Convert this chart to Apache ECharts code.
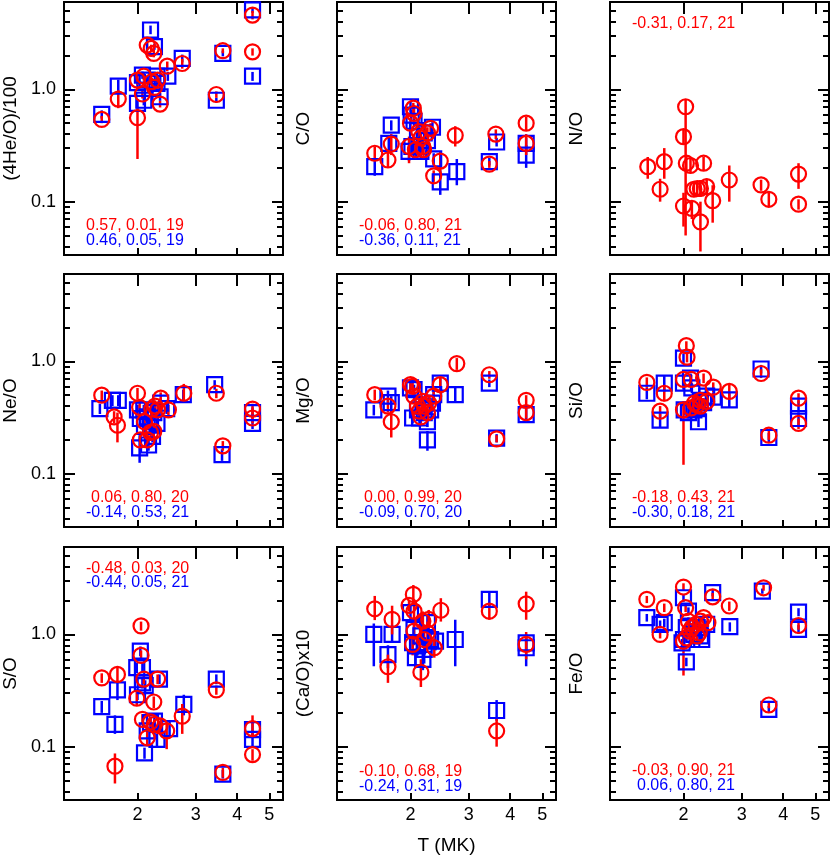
<!DOCTYPE html>
<html>
<head>
<meta charset="utf-8">
<title>Abundance ratios vs T</title>
<script src="https://cdn.jsdelivr.net/npm/echarts@6.0.0/dist/echarts.min.js"></script>
<style>
  html, body { margin: 0; padding: 0; background: #fff; }
  #chart { width: 831px; height: 857px; }
</style>
</head>
<body>
<div id="chart"></div>
<script>
const RED = '#ff0000';
const BLUE = '#0000ff';
const FONT = 'Liberation Sans, Arial, Helvetica, sans-serif';

// axes (T in MK on x, abundance ratio on y, both log)
const tRange = [1.2, 5.5];
const ratioRange = [0.0335, 6.0];
const tTicks = [2, 3, 4, 5];
const ratioMajorTicks = [0.1, 1];
const ratioMinorTicks = [0.04, 0.05, 0.06, 0.07, 0.08, 0.09,
  0.2, 0.3, 0.4, 0.5, 0.6, 0.7, 0.8, 0.9, 2, 3, 4, 5];

const panelLabels = ['(4He/O)/100', 'C/O', 'N/O', 'Ne/O', 'Mg/O', 'Si/O', 'S/O', '(Ca/O)x10', 'Fe/O'];
const redStats = ['0.57, 0.01, 19', '-0.06, 0.80, 21', '-0.31, 0.17, 21',
  '0.06, 0.80, 20', '0.00, 0.99, 20', '-0.18, 0.43, 21',
  '-0.48, 0.03, 20', '-0.10, 0.68, 19', '-0.03, 0.90, 21'];
const blueStats = ['0.46, 0.05, 19', '-0.36, 0.11, 21', null,
  '-0.14, 0.53, 21', '-0.09, 0.70, 20', '-0.30, 0.18, 21',
  '-0.44, 0.05, 21', '-0.24, 0.31, 19', '0.06, 0.80, 21'];

// [T, ratio, bar low, bar high]
const heRed = [[1.56,0.54,0.50,0.58],[1.75,0.82,0.68,0.98],[2.00,0.56,0.24,0.70],[2.00,1.21,1.10,1.32],
  [2.07,0.91,0.83,1.00],[2.09,1.31,1.20,1.42],[2.14,2.48,2.32,2.64],[2.20,2.32,2.15,2.50],
  [2.24,2.09,1.93,2.25],[2.25,1.04,0.95,1.13],[2.30,1.21,1.10,1.32],[2.34,0.74,0.69,0.79],
  [2.46,1.61,1.45,1.77],[2.73,1.70,1.53,1.87],[3.46,0.90,0.84,0.96],[3.62,2.21,2.10,2.32],
  [4.45,4.59,4.20,5.00],[4.45,2.16,2.00,2.32],[2.21,1.17,1.07,1.27]];
const heBlue = [[1.56,0.60,0.55,0.65],[1.75,1.07,0.92,1.22],[2.00,1.15,1.05,1.25],[2.00,0.75,0.68,0.82],
  [2.07,1.34,1.24,1.44],[2.19,3.38,3.10,3.70],[2.25,2.40,2.25,2.55],[2.29,1.31,1.20,1.42],
  [2.34,0.86,0.79,0.93],[2.47,1.31,1.19,1.43],[2.73,1.89,1.74,2.04],[3.46,0.80,0.76,0.84],
  [3.62,2.09,1.97,2.21],[4.45,5.10,4.80,5.40],[4.45,1.31,1.19,1.43],[2.09,0.80,0.72,0.88],
  [2.14,1.21,1.11,1.31],[2.29,1.13,1.03,1.23],[2.22,1.02,0.94,1.10]];

const cRed = [[1.56,0.27,0.23,0.31],[1.71,0.235,0.20,0.28],[1.75,0.326,0.26,0.40],[1.98,0.31,0.22,0.38],
  [2.00,0.50,0.44,0.56],[2.04,0.68,0.60,0.76],[2.05,0.61,0.54,0.68],[2.07,0.29,0.25,0.33],
  [2.12,0.42,0.37,0.47],[2.15,0.37,0.32,0.42],[2.19,0.29,0.25,0.33],[2.25,0.41,0.36,0.46],
  [2.30,0.45,0.40,0.50],[2.35,0.17,0.15,0.19],[2.46,0.23,0.18,0.28],[2.73,0.39,0.31,0.47],
  [3.46,0.216,0.20,0.23],[3.62,0.40,0.36,0.44],[4.47,0.50,0.43,0.57],[4.47,0.33,0.26,0.40],
  [2.18,0.31,0.27,0.35]];
const cBlue = [[1.56,0.205,0.17,0.245],[1.72,0.33,0.28,0.38],[1.75,0.48,0.43,0.53],[2.00,0.70,0.62,0.78],
  [2.01,0.59,0.52,0.66],[1.98,0.28,0.23,0.33],[2.10,0.43,0.38,0.48],[2.15,0.28,0.24,0.32],
  [2.25,0.35,0.31,0.39],[2.33,0.46,0.41,0.51],[2.35,0.24,0.21,0.27],[2.46,0.15,0.115,0.19],
  [2.76,0.185,0.14,0.24],[3.46,0.227,0.21,0.245],[3.64,0.34,0.31,0.37],[4.47,0.33,0.29,0.37],
  [4.47,0.26,0.20,0.32],[2.05,0.52,0.46,0.58],[2.20,0.41,0.36,0.46],[2.12,0.31,0.27,0.35],
  [2.02,0.31,0.27,0.35]];

const nRed = [[1.56,0.205,0.16,0.25],[1.70,0.129,0.10,0.16],[1.75,0.227,0.16,0.30],[2.00,0.379,0.32,0.44],
  [2.03,0.70,0.05,0.82],[2.00,0.0915,0.06,0.12],[2.04,0.22,0.18,0.26],[2.10,0.21,0.18,0.24],
  [2.12,0.087,0.07,0.10],[2.15,0.129,0.11,0.15],[2.20,0.131,0.11,0.15],[2.25,0.131,0.11,0.155],
  [2.25,0.066,0.036,0.10],[2.30,0.22,0.19,0.25],[2.35,0.136,0.115,0.16],[2.45,0.102,0.065,0.14],
  [2.75,0.156,0.10,0.21],[3.43,0.141,0.125,0.157],[3.62,0.105,0.09,0.12],[4.45,0.176,0.13,0.22],
  [4.45,0.095,0.085,0.105]];

const neRed = [[1.56,0.50,0.45,0.55],[1.70,0.32,0.28,0.36],[1.74,0.27,0.19,0.35],[2.00,0.52,0.46,0.58],
  [2.03,0.39,0.34,0.44],[2.04,0.20,0.17,0.23],[2.10,0.29,0.25,0.33],[2.14,0.20,0.17,0.23],
  [2.19,0.233,0.20,0.26],[2.24,0.238,0.20,0.27],[2.21,0.376,0.33,0.42],[2.26,0.40,0.35,0.45],
  [2.30,0.37,0.33,0.41],[2.35,0.47,0.41,0.53],[2.48,0.37,0.33,0.41],[2.76,0.52,0.43,0.63],
  [3.46,0.52,0.47,0.57],[3.62,0.177,0.16,0.195],[4.45,0.376,0.33,0.42],[4.45,0.313,0.28,0.35]];
const neBlue = [[1.54,0.38,0.34,0.42],[1.68,0.45,0.40,0.50],[1.75,0.45,0.40,0.50],[2.00,0.37,0.33,0.41],
  [2.03,0.17,0.125,0.22],[2.09,0.37,0.33,0.41],[2.10,0.264,0.23,0.30],[2.16,0.18,0.16,0.20],
  [2.19,0.27,0.24,0.30],[2.24,0.35,0.31,0.39],[2.29,0.28,0.25,0.31],[2.35,0.425,0.38,0.47],
  [2.45,0.38,0.34,0.42],[2.75,0.505,0.45,0.56],[3.42,0.62,0.56,0.68],[3.60,0.148,0.13,0.165],
  [4.45,0.35,0.31,0.39],[4.45,0.28,0.25,0.31],[2.04,0.31,0.27,0.35],[2.14,0.32,0.28,0.36],
  [2.22,0.215,0.19,0.24]];

const mgRed = [[1.56,0.505,0.45,0.56],[1.71,0.40,0.35,0.45],[1.75,0.29,0.21,0.37],[2.00,0.62,0.56,0.68],
  [2.03,0.60,0.54,0.66],[2.05,0.49,0.44,0.54],[2.10,0.40,0.36,0.44],[2.15,0.32,0.28,0.36],
  [2.18,0.44,0.39,0.49],[2.20,0.40,0.36,0.44],[2.25,0.35,0.31,0.39],[2.27,0.425,0.38,0.47],
  [2.35,0.49,0.44,0.54],[2.46,0.62,0.53,0.71],[2.76,0.955,0.84,1.07],[3.46,0.76,0.70,0.82],
  [3.64,0.204,0.19,0.22],[4.47,0.45,0.40,0.50],[4.47,0.35,0.31,0.39],[2.13,0.36,0.32,0.40]];
const mgBlue = [[1.55,0.37,0.33,0.41],[1.71,0.49,0.43,0.55],[1.75,0.43,0.37,0.49],[2.00,0.58,0.52,0.64],
  [2.03,0.313,0.28,0.35],[2.13,0.313,0.28,0.35],[2.25,0.29,0.26,0.32],[2.25,0.20,0.16,0.24],
  [2.33,0.425,0.38,0.47],[2.35,0.505,0.45,0.56],[2.46,0.64,0.57,0.71],[2.73,0.505,0.43,0.58],
  [3.46,0.64,0.59,0.69],[3.64,0.207,0.19,0.225],[4.47,0.335,0.29,0.38],[2.10,0.37,0.33,0.41],
  [2.18,0.40,0.36,0.44],[2.20,0.35,0.31,0.39],[2.05,0.56,0.50,0.62],[2.30,0.37,0.33,0.41]];

const siRed = [[1.55,0.65,0.58,0.72],[1.70,0.36,0.32,0.40],[1.75,0.52,0.44,0.60],[2.00,0.69,0.62,0.76],
  [2.00,0.37,0.12,0.44],[2.04,1.38,1.25,1.51],[2.05,1.09,0.98,1.20],[2.11,0.69,0.62,0.76],
  [2.11,0.385,0.35,0.42],[2.16,0.425,0.38,0.47],[2.20,0.41,0.37,0.45],[2.25,0.40,0.36,0.44],
  [2.30,0.71,0.64,0.78],[2.35,0.44,0.40,0.48],[2.46,0.59,0.53,0.65],[2.75,0.54,0.46,0.62],
  [3.43,0.78,0.71,0.85],[3.62,0.22,0.20,0.24],[4.45,0.47,0.42,0.52],[4.45,0.28,0.25,0.31],
  [2.25,0.45,0.41,0.49]];
const siBlue = [[1.55,0.52,0.46,0.58],[1.70,0.30,0.26,0.34],[1.75,0.64,0.54,0.74],[2.00,1.07,0.96,1.18],
  [2.00,0.64,0.56,0.72],[2.01,0.37,0.33,0.41],[2.10,0.71,0.64,0.78],[2.12,0.58,0.52,0.64],
  [2.22,0.29,0.26,0.32],[2.25,0.45,0.41,0.49],[2.35,0.49,0.44,0.54],[2.46,0.48,0.43,0.53],
  [2.75,0.455,0.39,0.52],[3.43,0.855,0.78,0.93],[3.62,0.21,0.19,0.23],[4.45,0.40,0.35,0.45],
  [4.45,0.31,0.27,0.35],[2.15,0.37,0.33,0.41],[2.30,0.43,0.39,0.47],[2.07,0.35,0.31,0.39],
  [2.20,0.38,0.34,0.42]];

const sRed = [[1.56,0.41,0.37,0.45],[1.71,0.067,0.047,0.087],[1.74,0.44,0.37,0.51],[1.99,0.27,0.23,0.31],
  [2.05,1.19,1.08,1.30],[2.05,0.65,0.58,0.72],[2.09,0.40,0.36,0.44],[2.07,0.175,0.155,0.195],
  [2.14,0.12,0.105,0.135],[2.19,0.166,0.15,0.18],[2.24,0.25,0.22,0.28],[2.25,0.158,0.14,0.175],
  [2.30,0.40,0.36,0.44],[2.34,0.153,0.135,0.17],[2.45,0.138,0.095,0.16],[2.73,0.187,0.13,0.24],
  [3.46,0.32,0.29,0.35],[3.62,0.059,0.053,0.065],[4.45,0.145,0.12,0.19],[4.45,0.085,0.075,0.095]];
const sBlue = [[1.56,0.227,0.20,0.255],[1.71,0.158,0.13,0.19],[1.74,0.32,0.26,0.38],[1.99,0.505,0.45,0.56],
  [2.04,0.71,0.64,0.78],[2.07,0.505,0.45,0.56],[2.00,0.29,0.26,0.32],[2.10,0.088,0.078,0.098],
  [2.11,0.35,0.31,0.39],[2.14,0.138,0.12,0.155],[2.25,0.169,0.15,0.19],[2.29,0.116,0.10,0.13],
  [2.33,0.40,0.36,0.44],[2.50,0.145,0.12,0.17],[2.76,0.238,0.19,0.29],[3.46,0.40,0.36,0.44],
  [3.62,0.057,0.052,0.062],[4.45,0.142,0.12,0.165],[4.45,0.116,0.10,0.13],[2.19,0.164,0.145,0.185],
  [2.07,0.37,0.33,0.41]];

const caRed = [[1.56,1.69,1.34,2.20],[1.71,0.515,0.37,0.66],[1.76,1.36,1.00,1.80],[1.98,1.81,1.60,2.00],
  [2.04,2.27,1.90,2.75],[2.05,1.61,1.30,1.90],[2.05,1.07,0.80,1.30],[2.03,0.815,0.65,1.00],
  [2.15,0.46,0.34,0.60],[2.18,1.31,1.00,1.60],[2.20,0.90,0.70,1.10],[2.25,1.03,0.80,1.30],
  [2.27,1.36,1.10,1.65],[2.36,0.76,0.62,0.92],[2.47,1.64,1.30,2.10],[3.46,1.61,1.35,1.90],
  [3.64,0.138,0.10,0.18],[4.47,1.87,1.35,2.40],[4.47,0.815,0.60,1.05]];
const caBlue = [[1.55,1.00,0.52,1.25],[1.71,0.66,0.50,0.80],[1.76,1.00,0.85,1.15],[2.00,1.56,1.35,1.80],
  [2.03,0.843,0.70,1.00],[2.05,1.11,0.95,1.30],[2.10,0.79,0.65,0.95],[2.15,0.97,0.80,1.15],
  [2.20,0.735,0.55,0.90],[2.25,1.27,1.05,1.50],[2.30,0.90,0.75,1.05],[2.38,0.87,0.72,1.02],
  [2.73,0.90,0.52,1.35],[3.46,2.05,1.75,2.35],[3.64,0.21,0.17,0.26],[4.47,0.76,0.52,0.95],
  [4.47,0.84,0.70,1.00],[2.07,0.62,0.50,0.75],[2.18,0.60,0.48,0.72]];

const feRed = [[1.55,2.05,1.90,2.20],[1.70,1.00,0.92,1.08],[1.75,1.73,1.58,1.88],[2.00,2.64,2.45,2.85],
  [2.03,1.73,1.58,1.88],[2.00,0.87,0.43,0.95],[2.04,0.93,0.85,1.01],[2.07,1.31,1.20,1.42],
  [2.12,1.15,1.05,1.25],[2.18,1.23,1.12,1.34],[2.23,1.03,0.94,1.12],[2.25,1.31,1.20,1.42],
  [2.30,1.41,1.29,1.53],[2.37,1.27,1.16,1.38],[2.45,2.16,1.98,2.34],[2.75,1.79,1.62,1.96],
  [3.49,2.60,2.45,2.75],[3.62,0.235,0.22,0.25],[4.45,1.20,1.10,1.30],[2.20,0.97,0.89,1.05],
  [2.09,1.07,0.98,1.16]];
const feBlue = [[1.55,1.41,1.30,1.52],[1.70,1.23,1.13,1.33],[1.75,1.27,1.16,1.38],[2.00,2.12,1.95,2.29],
  [2.00,0.90,0.82,0.98],[2.04,0.57,0.52,0.62],[2.04,1.15,1.05,1.25],[2.07,1.61,1.48,1.74],
  [2.12,0.90,0.82,0.98],[2.20,1.15,1.05,1.25],[2.25,0.97,0.89,1.05],[2.27,0.90,0.82,0.98],
  [2.35,1.23,1.13,1.33],[2.45,2.35,2.18,2.52],[2.76,1.17,1.06,1.28],[3.46,2.43,2.30,2.56],
  [3.62,0.215,0.20,0.23],[4.45,1.58,1.45,1.71],[4.45,1.11,1.01,1.21],[2.15,1.00,0.91,1.09],
  [1.98,0.84,0.77,0.91]];

const panels = [
  { red: heRed, blue: heBlue }, { red: cRed, blue: cBlue }, { red: nRed, blue: null },
  { red: neRed, blue: neBlue }, { red: mgRed, blue: mgBlue }, { red: siRed, blue: siBlue },
  { red: sRed, blue: sBlue }, { red: caRed, blue: caBlue }, { red: feRed, blue: feBlue }
];

// layout
const gridLeft = [64, 337, 610];
const gridTop = [2, 274, 547];
const gridW = 219, gridH = 253;
const statsPos = [
  [[86, 226], [86, 241]], [[359, 226], [359, 241]], [[632, 24]],
  [[91, 498], [86, 513]], [[364, 498], [359, 513]], [[632, 498], [632, 513]],
  [[86, 569], [86, 583]], [[359, 772], [359, 787]], [[632, 771], [637, 786]]
];

const lg = Math.log10;

function tickAxisX(g, pos, len, labels, name) {
  return {
    type: 'value', gridIndex: g, position: pos,
    min: lg(tRange[0]), max: lg(tRange[1]),
    name: name, nameLocation: 'middle', nameGap: 36, nameMoveOverlap: false,
    nameTextStyle: { color: '#000', fontSize: 19, fontFamily: FONT },
    axisLine: { show: true, onZero: false, lineStyle: { color: '#000', width: 2 } },
    axisTick: { show: true, inside: true, length: len, customValues: tTicks.map(lg),
      lineStyle: { color: '#000', width: 2 } },
    axisLabel: { show: labels, customValues: tTicks.map(lg), margin: 6,
      formatter: v => String(Math.round(Math.pow(10, v))),
      color: '#000', fontSize: 18, fontFamily: FONT },
    splitLine: { show: false }
  };
}

function tickAxisY(g, pos, ticks, len, labels, name, gap) {
  return {
    type: 'value', gridIndex: g, position: pos,
    min: lg(ratioRange[0]), max: lg(ratioRange[1]),
    name: name, nameLocation: 'middle', nameGap: gap || 0, nameMoveOverlap: false,
    nameTextStyle: { color: '#000', fontSize: 19, fontFamily: FONT },
    axisLine: { show: true, onZero: false, lineStyle: { color: '#000', width: 2 } },
    axisTick: { show: true, inside: true, length: len, customValues: ticks.map(lg),
      lineStyle: { color: '#000', width: 2 } },
    axisLabel: { show: labels, customValues: ticks.map(lg), margin: 8,
      formatter: v => Math.pow(10, v).toFixed(1),
      color: '#000', fontSize: 18, fontFamily: FONT },
    splitLine: { show: false }
  };
}

function errSeries(data, color, xi, yi) {
  return {
    type: 'custom', xAxisIndex: xi, yAxisIndex: yi, data: data, silent: true, clip: true,
    encode: { x: 0, y: [1, 2, 3] },
    renderItem: (params, api) => {
      const a = api.coord([api.value(0), api.value(2)]);
      const b = api.coord([api.value(0), api.value(3)]);
      return { type: 'line', shape: { x1: a[0], y1: a[1], x2: b[0], y2: b[1] },
        style: { stroke: color, lineWidth: 2.5 } };
    }
  };
}

function pointSeries(data, color, symbol, size, xi, yi) {
  return {
    type: 'scatter', xAxisIndex: xi, yAxisIndex: yi, symbol: symbol, symbolSize: size,
    data: data.map(d => [d[0], d[1]]), silent: true,
    itemStyle: { color: 'rgba(0,0,0,0)', borderColor: color, borderWidth: 2.2, opacity: 1 },
    emphasis: { disabled: true }
  };
}

const grids = [], xAxes = [], yAxes = [], series = [], texts = [];
panels.forEach((p, g) => {
  const r = Math.floor(g / 3), c = g % 3;
  grids.push({ left: gridLeft[c], top: gridTop[r], width: gridW, height: gridH,
    containLabel: false, outerBoundsMode: 'none' });

  xAxes.push({ type: 'log', gridIndex: g, min: tRange[0], max: tRange[1], show: false });
  xAxes.push(tickAxisX(g, 'bottom', 7, r === 2, g === 7 ? 'T (MK)' : ''));
  xAxes.push(tickAxisX(g, 'top', 12, false, ''));

  yAxes.push({ type: 'log', gridIndex: g, min: ratioRange[0], max: ratioRange[1], show: false });
  yAxes.push(tickAxisY(g, 'left', ratioMajorTicks, 11, c === 0, panelLabels[g], c === 0 ? 44 : 24));
  yAxes.push(tickAxisY(g, 'left', ratioMinorTicks, 6, false, ''));
  yAxes.push(tickAxisY(g, 'right', ratioMajorTicks, 11, false, ''));
  yAxes.push(tickAxisY(g, 'right', ratioMinorTicks, 6, false, ''));

  const xi = 3 * g, yi = 5 * g;
  if (p.blue) {
    series.push(errSeries(p.blue, BLUE, xi, yi));
    series.push(pointSeries(p.blue, BLUE, 'rect', 15, xi, yi));
  }
  series.push(errSeries(p.red, RED, xi, yi));
  series.push(pointSeries(p.red, RED, 'circle', 15, xi, yi));

  const lines = [redStats[g], blueStats[g]];
  const cols = [RED, BLUE];
  statsPos[g].forEach((pos, k) => {
    if (!lines[k]) return;
    texts.push({ type: 'text', x: pos[0], y: pos[1], silent: true,
      style: { text: lines[k], fill: cols[k], fontSize: 16, fontFamily: FONT,
        verticalAlign: 'middle', textVerticalAlign: 'middle' } });
  });
});

const chart = echarts.init(document.getElementById('chart'), null, { renderer: 'canvas' });
chart.setOption({
  backgroundColor: '#fff',
  animation: false,
  grid: grids,
  xAxis: xAxes,
  yAxis: yAxes,
  series: series,
  graphic: texts
});
</script>
</body>
</html>
